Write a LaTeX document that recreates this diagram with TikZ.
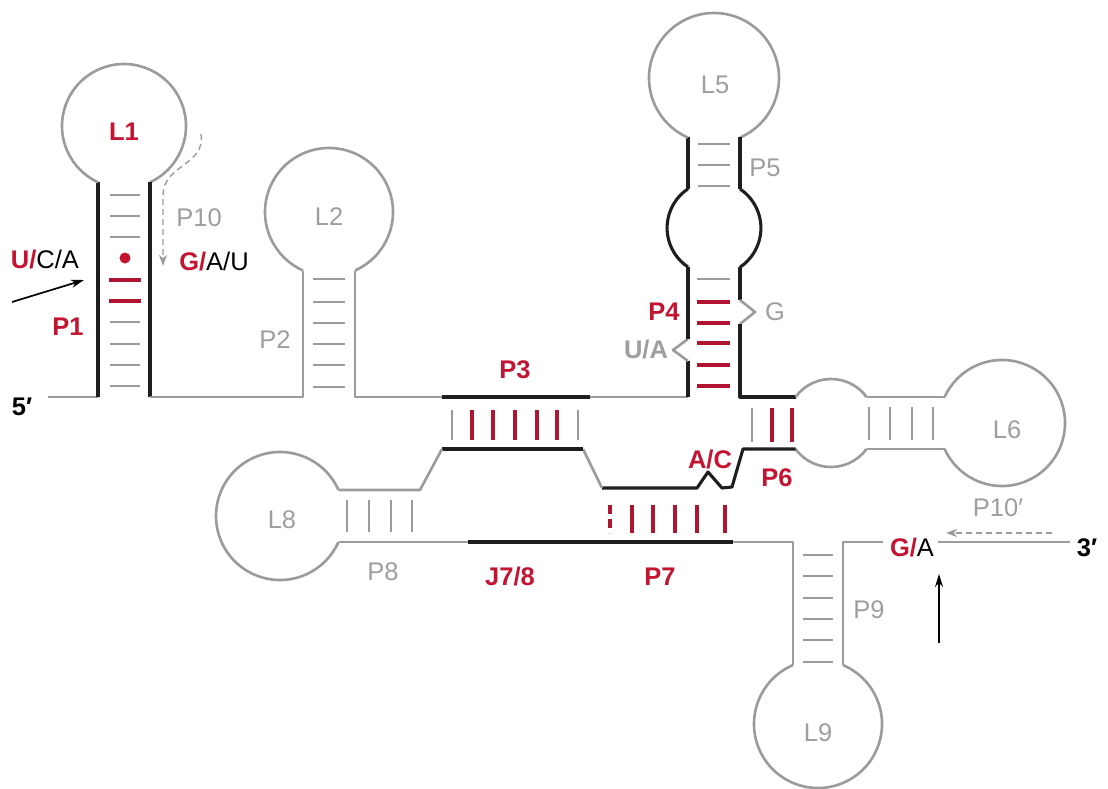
\documentclass[tikz,border=0pt]{standalone}
\usepackage{fontspec}
\setmainfont{Liberation Sans}
\usetikzlibrary{arrows.meta}

\definecolor{rnagray}{RGB}{155,155,155}
\definecolor{labgray}{RGB}{158,158,158}
\definecolor{rnared}{RGB}{195,20,50}
\definecolor{pairred}{RGB}{175,20,48}
\definecolor{rnablack}{RGB}{30,30,30}

\tikzset{
  strand/.style={rnagray, line width=2.6pt, line join=round},
  core/.style={rnablack, line width=3.1pt, line join=round},
  rung/.style={rnagray, line width=2.6pt},
  redrung/.style={pairred, line width=3.1pt},
  lab/.style={inner sep=0pt, font=\fontsize{25.5}{28}\selectfont},
  graylab/.style={lab, text=labgray},
  redlab/.style={inner sep=0pt, text=rnared, font=\fontsize{25.5}{28}\selectfont\bfseries},
  endlab/.style={inner sep=0pt, text=black, font=\fontsize{25.5}{28}\selectfont\bfseries},
  pairing/.style={rnagray, line width=1.4pt, dash pattern=on 6pt off 4pt,
    -{Stealth[length=11pt,width=8pt,inset=3pt]}},
  cleave/.style={black, line width=1.7pt, -{Stealth[length=13pt,width=8pt]}},
}

% hairpin loop: style, centre x, centre y, radius, half stem gap, opening angle
\newcommand{\hairpin}[6]{%
  \pgfmathsetmacro{\hpd}{asin(#5/#4)}%
  \draw[#1] (#2,#3) ++({#6+\hpd}:#4pt)
    arc[start angle={#6+\hpd}, end angle={#6+360-\hpd}, radius=#4pt];%
}

\begin{document}
\begin{tikzpicture}[x=1pt, y=1pt]
\fill[white] (0,0) rectangle (1108,-789);
\useasboundingbox (0,0) rectangle (1108,-789);

% ---------- backbone ----------
% 5' tail, P1 and L1
\draw[strand] (48,-397) -- (98,-397);
\draw[core] (98,-397) -- (98,-182);
\hairpin{strand}{124}{-126}{62}{26}{270}
\draw[core] (150,-182) -- (150,-397);
% P2 / L2
\draw[strand] (150,-397) -- (303,-397) -- (303,-271);
\hairpin{strand}{329}{-212}{64}{26}{270}
\draw[strand] (355,-271) -- (355,-397) -- (442,-397);
% P3 5' strand
\draw[core] (442,-397) -- (590,-397);
\draw[strand] (590,-397) -- (688,-397);
% P4 5' strand with U/A bulge
\draw[core] (688,-397) -- (688,-361);
\draw[strand] (688,-361) -- (673,-350) -- (688,-339);
\draw[core] (688,-339) -- (688,-267);
% internal loop between P4 and P5
\draw[core] (688,-267) arc[start angle=236.3, end angle=123.7, radius=47pt];
\draw[core] (688,-189) -- (688,-137.5);
\hairpin{strand}{714}{-78}{65}{26}{270}
\draw[core] (740,-137.5) -- (740,-189);
\draw[core] (740,-189) arc[start angle=56.3, end angle=-56.3, radius=47pt];
% P4 3' strand with G bulge
\draw[core] (740,-267) -- (740,-300);
\draw[strand] (740,-300) -- (755,-312) -- (740,-324);
\draw[core] (740,-324) -- (740,-397) -- (795.5,-397);
% P6 and L6
\draw[strand] (795.5,-397) arc[start angle=143.8, end angle=36.2, radius=44pt];
\draw[strand] (866.5,-397) -- (944.6,-397);
\hairpin{strand}{1002}{-423}{63}{26}{180}
\draw[strand] (944.6,-449) -- (866.5,-449);
\draw[strand] (866.5,-449) arc[start angle=-36.2, end angle=-143.8, radius=44pt];
% P6 / P7 / P3 3' strand
\draw[core] (795.5,-449) -- (743,-449) -- (732,-487) -- (722,-488)
  -- (708,-472) -- (697,-488) -- (602,-488);
\draw[strand] (602,-488) -- (583,-449);
\draw[core] (583,-449) -- (442,-449);
\draw[strand] (442,-449) -- (420,-490) -- (338.5,-490);
% P8 / L8
\hairpin{strand}{280}{-516}{64}{26}{0}
\draw[strand] (338.5,-542) -- (468,-542);
% J7/8 and P7 3' strand
\draw[core] (468,-542) -- (733,-542);
% P9 / L9
\draw[strand] (733,-542) -- (793,-542) -- (793,-665);
\hairpin{strand}{818}{-724}{64}{25}{90}
\draw[strand] (843,-665) -- (843,-542) -- (883,-542);

% ---------- base pairs ----------
\foreach \y in {-195,-216,-237,-322,-344,-365,-386}
  \draw[rung] (110,\y) -- (140,\y);
\foreach \y in {-280,-301}
  \draw[redrung] (109,\y) -- (141,\y);
\fill[rnared] (125,-258) circle[radius=5.5pt];
\foreach \y in {-279,-302,-323,-344,-365,-387}
  \draw[rung] (313,\y) -- (345,\y);
\foreach \y in {-144,-165,-186}
  \draw[rung] (698,\y) -- (730,\y);
\draw[rung] (697,-279) -- (730,-279);
\foreach \y in {-302,-323,-343,-365,-386}
  \draw[redrung] (697,\y) -- (730,\y);
\foreach \x in {452,578}
  \draw[rung] (\x,-410) -- (\x,-440);
\foreach \x in {472,493,515,537,557}
  \draw[redrung] (\x,-410) -- (\x,-440);
\draw[rung] (752,-408) -- (752,-442);
\foreach \x in {772,792}
  \draw[redrung] (\x,-408) -- (\x,-442);
\foreach \x in {869,890,912,933}
  \draw[rung] (\x,-407) -- (\x,-440);
\draw[redrung, dash pattern=on 9pt off 5pt] (610,-505) -- (610,-533);
\foreach \x in {632,653,675,697,725}
  \draw[redrung] (\x,-505) -- (\x,-533);
\foreach \x in {347,369,391,412}
  \draw[rung] (\x,-500) -- (\x,-532);
\foreach \y in {-555,-576,-598,-619,-640,-662}
  \draw[rung] (803,\y) -- (833,\y);

% ---------- labels ----------
\node[redlab]  (l1)  at (124,-132) {L1};
\node[graylab] (p10) at (199,-218) {P10};
\node[lab]     (gau) at (214,-262) {\textcolor{rnared}{\bfseries G/}A/U};
\node[lab]     (uca) at (45,-260)  {\textcolor{rnared}{\bfseries U/}C/A};
\node[redlab]  (p1)  at (68,-327)  {P1};
\node[endlab]  (five) at (22,-407) {5\char"2032};
\node[graylab] (l2)  at (329,-217) {L2};
\node[graylab] (p2)  at (275,-340) {P2};
\node[graylab] (l5)  at (715,-85)  {L5};
\node[graylab] (p5)  at (765,-168) {P5};
\node[redlab]  (p4)  at (664,-312) {P4};
\node[graylab] (gb)  at (775,-312) {G};
\node[graylab, font=\fontsize{25.5}{28}\selectfont\bfseries] (uab) at (646,-350) {U/A};
\node[redlab]  (p3)  at (515,-370) {P3};
\node[graylab] (l6)  at (1007,-430) {L6};
\node[redlab]  (ac)  at (710,-460) {A/C};
\node[redlab]  (p6)  at (777,-478) {P6};
\node[graylab] (l8)  at (282,-520) {L8};
\node[graylab] (p8)  at (383,-572) {P8};
\node[redlab]  (j78) at (510,-577) {J7/8};
\node[redlab]  (p7)  at (660,-577) {P7};
\node[graylab] (p9)  at (869,-610) {P9};
\node[graylab] (l9)  at (818,-733) {L9};
\node[lab]     (ga)  at (912,-548) {\textcolor{rnared}{\bfseries G/}A};
\node[graylab] (p10p) at (998,-508) {P10\char"2032};
\node[endlab]  (three) at (1087,-548) {3\char"2032};

% 3' tail
\draw[strand] (ga.east) ++(4,6) coordinate (tailstart) -- (1070,-542) coordinate (tailend);

% ---------- P10 pairing and cleavage-site arrows ----------
\coordinate (p10a) at (201,-134);
\coordinate (p10b) at (163,-266);
\draw[pairing] (p10a) .. controls (206,-165) and (163,-165) .. (163,-195) -- (p10b);
\coordinate (p10pa) at (1052,-533);
\coordinate (p10pb) at (946,-533);
\draw[pairing] (p10pa) -- (p10pb);
\coordinate (cut5a) at (12,-302);
\coordinate (cut5b) at (84,-280);
\draw[cleave] (cut5a) -- (cut5b);
\coordinate (cut3a) at (939,-643);
\coordinate (cut3b) at (939,-574);
\draw[cleave] (cut3a) -- (cut3b);
\end{tikzpicture}
\end{document}
